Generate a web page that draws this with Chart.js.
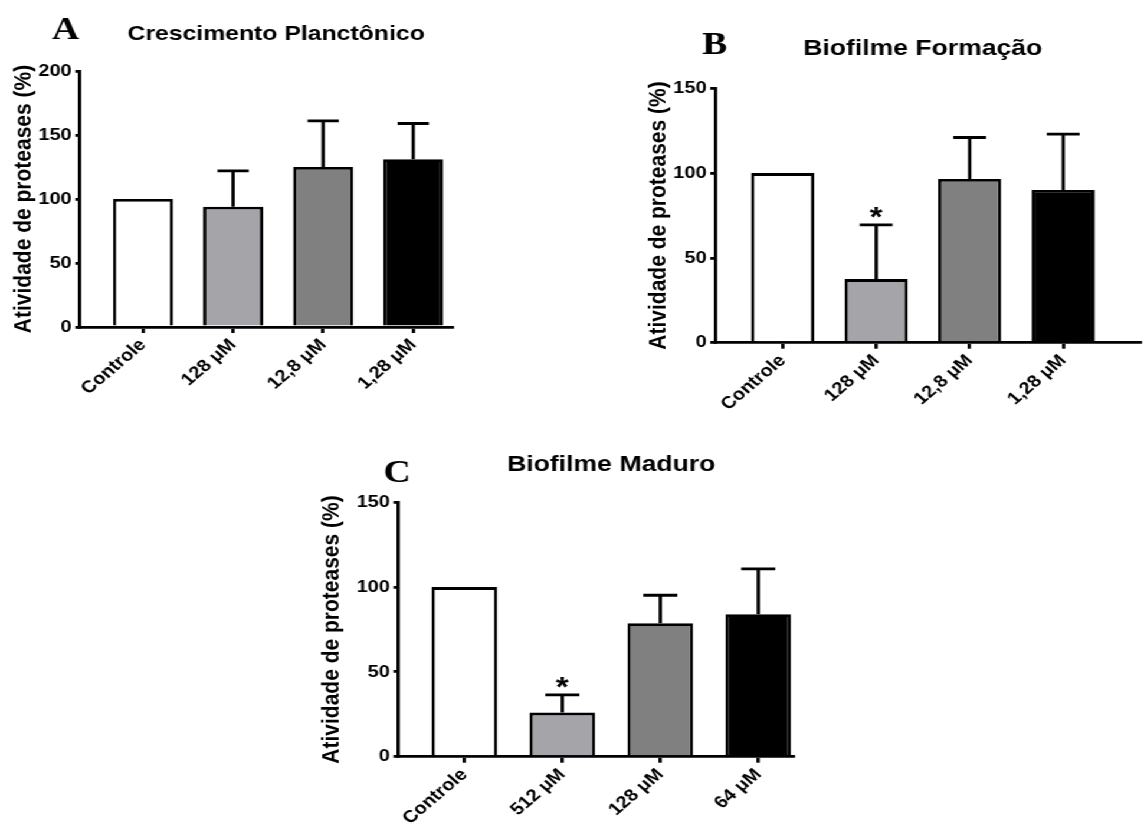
<!DOCTYPE html>
<html>
<head>
<meta charset="utf-8">
<script src="https://cdn.jsdelivr.net/npm/chart.js@4"></script>
<style>
    body { margin: 0; background: #fff; overflow: hidden; }
    /* the original figure is stretched a bit horizontally */
    #wrap { position: absolute; left: 0; top: 0; width: 971px; height: 832px; transform: scaleX(1.18); transform-origin: 0 0; }
    canvas { position: absolute; }
</style>
</head>
<body>
<div id="wrap">
    <canvas id="chartA" width="440" height="400" style="left:0px;top:0px"></canvas>
    <canvas id="chartB" width="430" height="420" style="left:540px;top:0px"></canvas>
    <canvas id="chartC" width="440" height="412" style="left:260px;top:420px"></canvas>
</div>
<script>
// A - Crescimento Planctônico
const catA = ['Controle', '128 μM', '12,8 μM', '1,28 μM'];
const meanA = [100, 94, 125, 131];
const errA = [0, 28, 36, 28];
const starA = [false, false, false, false];
const yMaxA = 200;

// B - Biofilme Formação
const catB = ['Controle', '128 μM', '12,8 μM', '1,28 μM'];
const meanB = [100, 37.5, 96.5, 90];
const errB = [0, 32, 24.5, 33];
const starB = [false, true, false, false];
const yMaxB = 150;

// C - Biofilme Maduro
const catC = ['Controle', '512 μM', '128 μM', '64 μM'];
const meanC = [100, 26, 78.7, 84];
const errC = [0, 10.4, 16.5, 26.7];
const starC = [false, true, false, false];
const yMaxC = 150;

const yStep = 50;
const yTitle = 'Atividade de proteases (%)';
const barColors = ['#ffffff', '#a4a4a9', '#808080', '#000000'];

const sans = '"Liberation Sans", Arial, sans-serif';
Chart.defaults.font.family = sans;
Chart.defaults.color = '#000';

// error bars (upper only), asterisks, panel letter and title
const panelExtras = {
    id: 'panelExtras',
    afterDatasetsDraw(chart, args, opts) {
        const ctx = chart.ctx;
        const x = chart.scales.x, y = chart.scales.y;
        const meta = chart.getDatasetMeta(0);
        ctx.save();
        ctx.strokeStyle = '#000';
        ctx.lineWidth = 2.8;
        ctx.fillStyle = '#000';
        ctx.textAlign = 'center';
        ctx.font = 'bold 28px ' + sans;
        opts.errors.forEach(function (e, i) {
            if (!e) return;
            const bar = meta.data[i];
            const cx = x.getPixelForValue(i);
            const top = y.getPixelForValue(opts.means[i] + e);
            const half = bar.width * 0.26;
            ctx.beginPath();
            ctx.moveTo(cx, bar.y);
            ctx.lineTo(cx, top);
            ctx.moveTo(cx - half, top);
            ctx.lineTo(cx + half, top);
            ctx.stroke();
            if (opts.stars[i]) ctx.fillText('*', cx, top + 1);
        });
        ctx.textAlign = 'center';
        ctx.font = 'bold ' + opts.title.size + 'px ' + sans;
        ctx.fillText(opts.title.text, opts.title.x, opts.title.y);
        ctx.textAlign = 'left';
        ctx.font = 'bold 32px "Liberation Serif", "Times New Roman", serif';
        ctx.fillText(opts.letter.text, opts.letter.x, opts.letter.y);
        ctx.restore();
    }
};

function makeChart(id, cats, means, errs, stars, yMax, lay) {
    const points = means.map(function (v, i) { return { x: i, y: v }; });
    return new Chart(document.getElementById(id), {
        type: 'bar',
        data: {
            datasets: [{
                data: points,
                backgroundColor: barColors,
                borderColor: '#000',
                borderWidth: 2.8,
                categoryPercentage: 1,
                barPercentage: lay.barPct
            }]
        },
        options: {
            responsive: false,
            animation: false,
            layout: { padding: { top: lay.padTop, right: lay.padRight, left: 0, bottom: 0 } },
            plugins: {
                legend: { display: false },
                tooltip: { enabled: false },
                panelExtras: {
                    means: means, errors: errs, stars: stars,
                    title: lay.title, letter: lay.letter
                }
            },
            scales: {
                x: {
                    type: 'linear',
                    min: lay.xMin,
                    max: lay.xMax,
                    offset: false,
                    afterBuildTicks: function (scale) {
                        scale.ticks = cats.map(function (c, i) { return { value: i }; });
                    },
                    afterFit: function (scale) { scale.height = lay.xHeight; },
                    ticks: {
                        autoSkip: false,
                        maxRotation: 45,
                        minRotation: 45,
                        padding: 2,
                        font: { size: 17, weight: 'bold' },
                        callback: function (v) { return cats[v]; }
                    },
                    grid: { offset: false, drawOnChartArea: false, tickLength: 6, color: '#000', lineWidth: 2.8 },
                    border: { display: true, color: '#000', width: 2.8 }
                },
                y: {
                    min: 0,
                    max: yMax,
                    afterFit: function (scale) { scale.width = lay.yWidth; },
                    ticks: { stepSize: yStep, padding: 3, font: { size: 17, weight: 'bold' } },
                    grid: { drawOnChartArea: false, tickLength: 4, color: '#000', lineWidth: 2.8 },
                    border: { display: true, color: '#000', width: 2.8 },
                    title: {
                        display: true,
                        text: yTitle,
                        font: { size: 21, weight: 'bold' },
                        padding: { top: lay.yTitlePad, bottom: 0 }
                    }
                }
            }
        },
        plugins: [panelExtras]
    });
}

makeChart('chartA', catA, meanA, errA, starA, yMaxA, {
    yWidth: 67.8, padTop: 71, padRight: 57, xHeight: 73,
    xMin: -0.70, xMax: 3.43, barPct: 0.667, yTitlePad: 8,
    title: { text: 'Crescimento Planctônico', x: 234, y: 40, size: 21 },
    letter: { text: 'A', x: 44, y: 39 }
});

makeChart('chartB', catB, meanB, errB, starB, yMaxB, {
    yWidth: 65.9, padTop: 88.3, padRight: 4, xHeight: 77.3,
    xMin: -0.724, xMax: 3.82, barPct: 0.675, yTitlePad: 6,
    title: { text: 'Biofilme Formação', x: 242, y: 55, size: 22.5 },
    letter: { text: 'B', x: 55, y: 54 }
});

makeChart('chartC', catC, meanC, errC, starC, yMaxC, {
    yWidth: 77.5, padTop: 82.3, padRight: 28, xHeight: 75.3,
    xMin: -0.675, xMax: 3.354, barPct: 0.67, yTitlePad: 9,
    title: { text: 'Biofilme Maduro', x: 258, y: 50.7, size: 22.5 },
    letter: { text: 'C', x: 65, y: 62 }
});
</script>
</body>
</html>
